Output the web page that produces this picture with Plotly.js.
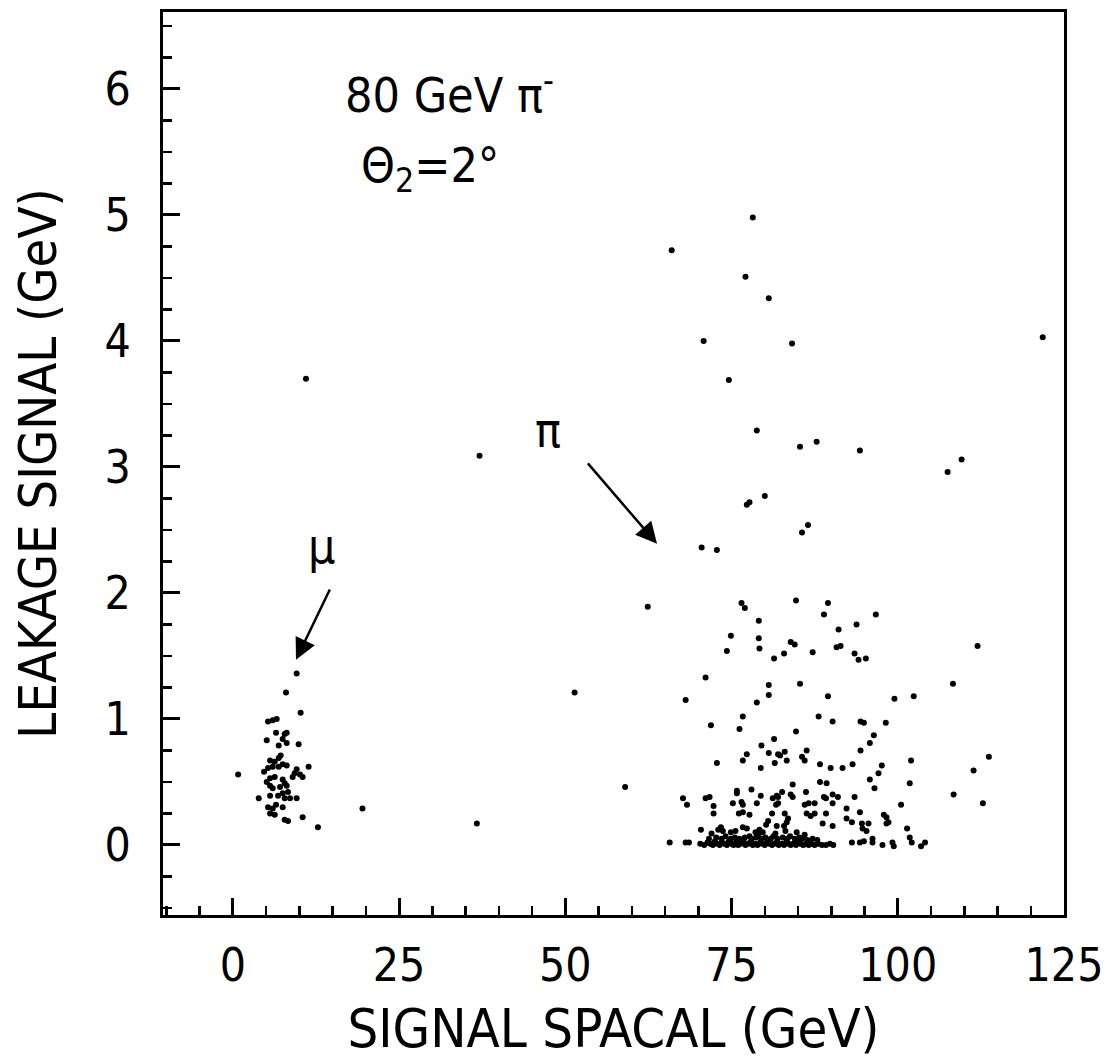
<!DOCTYPE html>
<html>
<head>
<meta charset="utf-8">
<script src="https://cdn.plot.ly/plotly-3.0.1.min.js"></script>
<style>html,body{margin:0;padding:0;background:#fff;}#chart{width:1107px;height:1060px;}</style>
</head>
<body>
<div id="chart"></div>
<script>
// Muon cluster (SIGNAL SPACAL GeV, LEAKAGE SIGNAL GeV)
const muonX = [9.6,8.0,10.2,5.3,6.0,6.6,6.5,7.8,8.1,7.5,8.1,5.1,6.9,9.9,7.2,6.9,5.6,6.3,7.5,8.1,6.9,11.4,4.7,5.3,6.0,9.6,9.3,10.1,10.5,9.0,5.6,6.3,7.5,7.8,8.1,7.1,5.1,5.6,6.0,3.9,5.6,6.8,7.5,8.3,7.8,8.6,9.6,5.3,6.0,6.5,5.6,6.3,7.5,7.8,8.3,10.5,12.8];
const muonY = [1.36,1.21,1.05,0.98,0.99,1.00,0.89,0.88,0.89,0.84,0.81,0.83,0.79,0.80,0.71,0.69,0.67,0.66,0.64,0.63,0.62,0.62,0.58,0.61,0.62,0.60,0.57,0.56,0.54,0.54,0.53,0.54,0.52,0.49,0.47,0.46,0.50,0.47,0.45,0.37,0.39,0.39,0.41,0.42,0.37,0.37,0.37,0.30,0.29,0.32,0.25,0.24,0.30,0.20,0.19,0.22,0.14];

// Isolated events between the clusters
const strayX = [0.8,19.5,36.7,11.0,37.1,51.4,59.0];
const strayY = [0.56,0.29,0.17,3.70,3.09,1.21,0.46];

// Pion events: upper tail
const pionUpperX = [78.2,66.0,77.1,80.6,70.8,84.1,74.6,121.8,78.8,85.3,87.8,94.3,109.6,107.5,80.0,77.3,77.7,86.5,85.6,70.5,72.8,62.4,76.5,77.0,84.7,89.5,79.1,88.9,96.7,93.8,91.1,74.9,79.1,83.9,84.5,74.3,79.2,81.4,82.9,87.2,90.8,91.4,93.5,94.1,95.2,112.0];
const pionUpperY = [4.98,4.72,4.51,4.34,4.00,3.98,3.69,4.03,3.29,3.16,3.20,3.13,3.06,2.96,2.77,2.70,2.72,2.54,2.48,2.36,2.34,1.89,1.92,1.88,1.94,1.92,1.78,1.83,1.83,1.75,1.71,1.66,1.64,1.61,1.59,1.54,1.56,1.48,1.52,1.53,1.57,1.58,1.52,1.47,1.48,1.58];

// Pion events: middle region
const pionMidX = [71.1,80.6,80.6,85.3,68.1,78.8,89.5,99.5,102.4,108.3,76.7,88.1,90.2,94.4,94.9,98.2,71.9,76.2,84.7,96.4,81.4,95.8,79.5,94.4,86.3,83.0,80.6,82.0,82.3,77.3,85.6,76.7,83.3,86.0,72.8,81.5,102.0,88.3,89.9,91.7,93.2,97.6,79.4,97.1,113.7,111.4];
const pionMidY = [1.33,1.27,1.19,1.28,1.15,1.13,1.18,1.16,1.18,1.28,1.02,1.02,0.98,0.98,0.97,0.97,0.95,0.92,0.90,0.87,0.84,0.81,0.79,0.75,0.75,0.74,0.73,0.72,0.71,0.72,0.70,0.67,0.67,0.67,0.65,0.65,0.67,0.64,0.61,0.61,0.64,0.63,0.61,0.57,0.70,0.59];

// Pion events: lower region
const pionLowX = [84.2,88.3,89.3,95.8,101.8,96.5,75.8,75.8,78.0,82.6,86.2,79.4,83.9,84.2,88.9,89.2,90.2,91.0,93.5,67.7,71.1,71.7,81.2,82.0,108.4,112.8,100.5,101.4,101.8,102.1,103.5,104.1,68.3,72.3,72.3,75.2,76.5,76.7,76.1,76.7,78.8,77.7,81.8,81.7,82.0,81.1,83.0,83.5,83.3,86.0,86.6,87.5,86.3,87.5,86.9,89.2,90.2,88.7,90.2,92.3,94.3,92.3,93.1,94.6,95.6,94.7,95.3,97.9,98.3,98.6,98.3,70.4,73.4,73.7,74.9,76.7,78.6,79.2,79.7,80.2,80.5,81.8,82.9,84.8,65.7,68.1,68.6,93.1,94.3,94.9,96.2,96.2,97.7,99.2,99.4];
const pionLowY = [0.48,0.50,0.49,0.52,0.49,0.45,0.43,0.41,0.44,0.42,0.42,0.39,0.40,0.38,0.38,0.37,0.40,0.38,0.38,0.37,0.37,0.38,0.37,0.38,0.40,0.33,0.32,0.13,0.06,0.02,-0.01,0.02,0.32,0.31,0.25,0.33,0.34,0.32,0.25,0.26,0.33,0.24,0.39,0.32,0.33,0.25,0.25,0.21,0.18,0.32,0.33,0.33,0.25,0.25,0.23,0.25,0.33,0.17,0.15,0.29,0.26,0.21,0.18,0.17,0.17,0.13,0.11,0.24,0.22,0.18,0.17,0.12,0.14,0.11,0.10,0.14,0.10,0.12,0.10,0.16,0.19,0.15,0.15,0.10,0.02,0.02,0.02,0.02,0.02,0.03,0.02,0.05,0.00,0.02,-0.01];

// Pion events: dense band at zero leakage
const pionBandX = [70.3,70.9,71.4,71.8,72.2,72.5,72.9,73.2,73.6,73.9,74.3,74.6,75.0,75.3,75.7,76.0,76.4,76.8,77.1,77.5,77.8,78.2,78.5,78.9,79.3,79.6,80.0,80.3,80.7,81.1,81.4,81.8,82.1,82.5,82.9,83.2,83.6,83.9,84.3,84.7,85.0,85.4,85.8,86.2,86.6,87.0,87.5,88.0,88.6,89.2,89.8,90.3,
  71.6,72.7,73.5,74.1,74.9,75.5,76.2,77.0,77.7,78.0,78.7,79.5,80.1,80.9,81.3,81.9,82.7,83.4,83.8,84.5,85.2,85.6,86.4,87.2,87.9,72.0,73.0,75.6,77.3,79.0,81.6,83.1,86.0];
const pionBandY = [0.01,0.00,0.02,0.01,0.00,0.03,0.01,0.00,0.02,0.01,0.00,0.03,0.01,0.00,0.02,0.00,0.01,0.03,0.00,0.01,0.02,0.00,0.01,0.00,0.02,0.01,0.00,0.02,0.01,0.00,0.01,0.02,0.00,0.01,0.00,0.02,0.01,0.00,0.01,0.00,0.02,0.01,0.00,0.01,0.00,0.01,0.00,0.01,0.00,0.00,0.01,0.00,
  0.05,0.06,0.05,0.07,0.05,0.06,0.05,0.06,0.07,0.05,0.06,0.05,0.06,0.05,0.07,0.05,0.06,0.05,0.07,0.05,0.06,0.05,0.04,0.05,0.04,0.09,0.12,0.11,0.13,0.08,0.09,0.11,0.08];

const xTicks = [0,25,50,75,100,125];
const yTicks = [0,1,2,3,4,5,6];

const FONT = '"DejaVu Sans Condensed", "DejaVu Sans", sans-serif';
const mk = {color:'#000', size:6};
function tr(x,y){return {x:x,y:y,type:'scatter',mode:'markers',marker:mk,hoverinfo:'x+y',showlegend:false};}

const data = [tr(muonX,muonY),tr(strayX,strayY),tr(pionUpperX,pionUpperY),tr(pionMidX,pionMidY),tr(pionLowX,pionLowY),tr(pionBandX,pionBandY)];

const layout = {
  width:1107, height:1060,
  margin:{l:163, r:43, t:12, b:145},
  paper_bgcolor:'#fff', plot_bgcolor:'#fff',
  font:{family:FONT, color:'#000', size:48},
  showlegend:false,
  xaxis:{
    range:[-10.5,125], tickvals:xTicks, ticktext:xTicks.map(String),
    ticks:'inside', ticklen:17, tickwidth:3, tickcolor:'#000',
    minor:{ticks:'inside', ticklen:9, tickwidth:2.5, dtick:5, tick0:0, tickcolor:'#000', showgrid:false},
    showline:true, linewidth:3, linecolor:'#000', mirror:true,
    showgrid:false, zeroline:false,
    ticklabelstandoff:8,
    tickfont:{family:FONT, size:46},
    title:{text:'SIGNAL SPACAL (GeV)', font:{family:FONT, size:54}, standoff:20}
  },
  yaxis:{
    range:[-0.556,6.611], tickvals:yTicks, ticktext:yTicks.map(String),
    ticks:'inside', ticklen:17, tickwidth:3, tickcolor:'#000',
    minor:{ticks:'inside', ticklen:9, tickwidth:2.5, dtick:0.25, tick0:0, tickcolor:'#000', showgrid:false},
    showline:true, linewidth:3, linecolor:'#000', mirror:true,
    showgrid:false, zeroline:false,
    ticklabelstandoff:20,
    tickfont:{family:FONT, size:46},
    title:{text:'LEAKAGE SIGNAL (GeV)', font:{family:FONT, size:52}, standoff:32}
  },
  annotations:[
    {x:32.6, y:5.98, xref:'x', yref:'y', text:'80 GeV π<sup>-</sup>', showarrow:false, font:{family:FONT, size:48}},
    {x:29.6, y:5.37, xref:'x', yref:'y', text:'Θ<sub>2</sub>=2°', showarrow:false, font:{family:FONT, size:48}},
    {x:47.4, y:3.29, xref:'x', yref:'y', text:'π', showarrow:false, font:{family:FONT, size:48}},
    {x:13.4, y:2.37, xref:'x', yref:'y', text:'μ', showarrow:false, font:{family:FONT, size:48}},
    {x:63.8, y:2.39, ax:53.2, ay:3.04, xref:'x', yref:'y', axref:'x', ayref:'y', text:'', showarrow:true, arrowhead:2, arrowsize:1.7, arrowwidth:2.5, arrowcolor:'#000'},
    {x:9.5, y:1.47, ax:14.7, ay:2.04, xref:'x', yref:'y', axref:'x', ayref:'y', text:'', showarrow:true, arrowhead:2, arrowsize:1.7, arrowwidth:2.5, arrowcolor:'#000'}
  ]
};

Plotly.newPlot('chart', data, layout, {displayModeBar:false, staticPlot:true});
</script>
</body>
</html>
